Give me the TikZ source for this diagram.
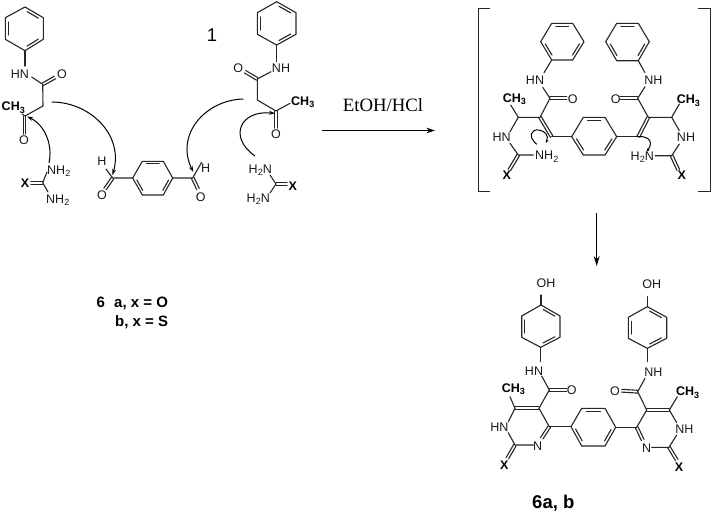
\documentclass[tikz,border=0pt]{standalone}
\usepackage{fontspec}
\setmainfont{Liberation Sans}
\newfontfamily\timesf{Liberation Serif}
\usetikzlibrary{calc,arrows.meta}
\tikzset{
  x=1pt,y=-1pt,
  bond/.style={line width=1.1pt,black!85,line cap=round,line join=round},
  atom/.style={inner sep=0pt,font=\fontsize{12.5}{12.5}\selectfont,text=black!90},
  batom/.style={inner sep=0pt,font=\fontsize{12.5}{12.5}\selectfont\bfseries,text=black},
  curly/.style={line width=1pt,black,-{Stealth[length=6pt,width=4pt]}},
  curlysmall/.style={line width=1pt,black,-{Stealth[length=3.5pt,width=3pt]}},
  react/.style={line width=1pt,black,-{Stealth[length=8.5pt,width=5.5pt]}},
  bracket/.style={line width=1.2pt,black!85},
  legend/.style={inner sep=0pt,font=\fontsize{15}{15}\selectfont\bfseries,text=black}
}
\newcommand\chs[1]{\raisebox{-2.5pt}{\fontsize{9}{9}\selectfont #1}}
\newcommand\dbond[2]{%
  \draw[bond] ($(#1)!1.4pt!90:(#2)$) -- ($(#2)!1.4pt!-90:(#1)$);
  \draw[bond] ($(#1)!1.4pt!-90:(#2)$) -- ($(#2)!1.4pt!90:(#1)$);}
% inner line of a ring double bond: a, b, centre
\newcommand\inb[3]{\draw[bond] ($(#1)!0.14!(#2)!0.15!(#3)$) -- ($(#2)!0.14!(#1)!0.15!(#3)$);}
\newcommand\hexa[6]{\draw[bond] (#1)--(#2)--(#3)--(#4)--(#5)--(#6)--cycle;}
\begin{document}
\begin{tikzpicture}
\useasboundingbox (0,0) rectangle (712,514);
%% ---------- left ketoanilide
\coordinate (c1) at (24.5,29);
\hexa{25,7}{43.3,17.7}{43.3,39.3}{25,50.7}{5.3,39.3}{5.3,17.7}
\inb{25,7}{43.3,17.7}{c1}\inb{43.3,39.3}{25,50.7}{c1}\inb{5.3,39.3}{5.3,17.7}{c1}
\draw[bond] (25,50.7)--(25,66);
\node[atom] (a1) at (20,74) {HN};
\draw[bond] (31.7,77)--(42.7,84.3);
\dbond{42.7,84.3}{55,77.5}
\node[atom] (a2) at (62,74) {O};
\draw[bond] (42.7,84.3)--(43,106)--(25,116)--(22,114);
\node[batom,anchor=east] (a3) at (25,107.5) {CH\chs{3}};
\dbond{24.5,116}{24.5,134}
\node[atom] (a4) at (24,140) {O};
\draw[curly] (51.7,102) .. controls (90,102) and (124,135) .. (112.5,175);
\draw[curly] (49,163) .. controls (53,145) and (45,125) .. (27,116.5);
%% urea left
\draw[bond] (42.7,182.7)--(47,172);
\draw[bond] (42.7,182.7)--(48,192);
\dbond{42.7,182.7}{31,182.7}
\node[batom] (a5) at (25,183) {X};
\node[atom,anchor=west] (a6) at (47,171) {NH\chs{2}};
\node[atom,anchor=west] (a7) at (46,200) {NH\chs{2}};
%% ---------- terephthalaldehyde
\coordinate (c2) at (152.7,178);
\hexa{132.7,178}{142.3,161.3}{163.3,161.3}{172.7,178}{163.3,195}{142.3,195}
\inb{142.3,161.3}{163.3,161.3}{c2}\inb{172.7,178}{163.3,195}{c2}\inb{142.3,195}{132.7,178}{c2}
\draw[bond] (132.7,178)--(112.7,178)--(106,169);
\dbond{112.7,178}{105,189}
\node[atom] (a8) at (102,161) {H};
\node[atom] (a9) at (102,195) {O};
\draw[bond] (172.7,178)--(192.7,178)--(201.5,162.5);
\dbond{192.7,178}{198,189}
\node[atom] (a10) at (205.7,168) {H};
\node[atom] (a11) at (200.7,197) {O};
\node[font=\fontsize{18.5}{18.5}\selectfont] (one) at (212,35) {1};
\draw[curly] (243.3,99) .. controls (205,100) and (175,135) .. (193.3,172);
%% ---------- right ketoanilide
\coordinate (c3) at (276.7,23.5);
\hexa{276.7,1.7}{296,12.7}{296,34.3}{276.7,45}{257.3,34.3}{257.3,12.7}
\inb{276.7,1.7}{296,12.7}{c3}\inb{296,34.3}{276.7,45}{c3}\inb{257.3,34.3}{257.3,12.7}{c3}
\draw[bond] (276.7,45)--(276.7,61.7);
\node[atom] (b1) at (281,68) {NH};
\draw[bond] (271,71.7)--(257.3,79);
\dbond{257.3,79}{245,71.7}
\node[atom] (b2) at (238.3,68) {O};
\draw[bond] (257.3,79)--(257.3,100)--(276,111)--(290,103.3);
\node[batom,anchor=west] (b3) at (291,102) {CH\chs{3}};
\dbond{276,111}{276,128}
\node[atom] (b4) at (276,134) {O};
\draw[curly] (255,156) .. controls (228,137) and (240,110) .. (275,113.3);
%% urea right
\draw[bond] (276,184)--(270,175);
\draw[bond] (276,184)--(270,193);
\dbond{276,184}{287,184}
\node[batom] (b5) at (292.7,185.7) {X};
\node[atom,anchor=east] (b6) at (272,170) {H\chs{2}N};
\node[atom,anchor=east] (b7) at (270,199.3) {H\chs{2}N};
%% ---------- reaction
\node[font=\timesf\fontsize{18.8}{18.8}\selectfont] (cond) at (383,105) {EtOH/HCl};
\coordinate (r1) at (322,130.5);
\coordinate (r2) at (435,130.5);
\draw[react] (r1)--(r2);
%% ---------- legend
\node[legend,anchor=base west] (l1) at (96.5,307.5) {6};
\node[legend,anchor=base west] (l1b) at (114,307.5) {a, x = O};
\node[legend,anchor=base west] (l2) at (115,326) {b, x = S};
%% ---------- brackets
\draw[bracket] (490,8.3)--(478.3,8.3)--(478.3,191.7)--(490,191.7);
\draw[bracket] (698.3,8.3)--(710.7,8.3)--(710.7,191.7)--(698.3,191.7);
%% ---------- intermediate
\coordinate (c4) at (562.3,41.7);
\hexa{551.7,23.3}{572.7,23.3}{584,41.7}{572.7,60}{551.7,60}{540.7,41.7}
\inb{551.7,23.3}{572.7,23.3}{c4}\inb{584,41.7}{572.7,60}{c4}\inb{551.7,60}{540.7,41.7}{c4}
\draw[bond] (551.7,60)--(544,72.7);
\node[atom] (d1) at (535,80) {HN};
\draw[bond] (542.7,87.3)--(550,98.3);
\dbond{550,98.3}{566.7,98.3}
\node[atom] (d2) at (572.7,99.3) {O};
\draw[bond] (550,98.3)--(540,117.3);
\dbond{540,117.3}{551.7,136.7}
\draw[bond] (540,117.3)--(518.3,117.3)--(510.7,105);
\node[batom] (d3) at (514.3,99) {CH\chs{3}};
\draw[bond] (518.3,117.3)--(510,131.7);
\node[atom] (d4) at (501.7,136.7) {HN};
\draw[bond] (510,143.3)--(518.3,155)--(533.3,155);
\dbond{518.3,155}{509.3,170}
\node[batom] (d5) at (506.7,175) {X};
\node[atom,anchor=west] (d6) at (535,156.7) {NH\chs{2}};
\draw[bond] (551.7,136.7)--(571.7,136.7);
\coordinate (c5) at (594.2,136.2);
\hexa{571.7,136.7}{583.3,117.3}{605,117.3}{616.7,136.7}{605,155}{583.3,155}
\inb{583.3,117.3}{605,117.3}{c5}\inb{616.7,136.7}{605,155}{c5}\inb{583.3,155}{571.7,136.7}{c5}
\draw[bond] (616.7,136.7)--(638.3,136.7);
\dbond{638.3,136.7}{648.3,117.3}
\draw[bond] (648.3,117.3)--(637.7,98.3);
\dbond{637.7,98.3}{620,98.3}
\node[atom] (e2) at (615.7,99.3) {O};
\draw[bond] (637.7,98.3)--(645,86.7);
\node[atom] (e1) at (653.3,80) {NH};
\draw[bond] (645,72.7)--(638.3,60.7);
\coordinate (c6) at (627.5,42);
\hexa{616.7,23.3}{638.3,23.3}{649.3,41.7}{638.3,60.7}{616.7,60.7}{605.7,41.7}
\inb{616.7,23.3}{638.3,23.3}{c6}\inb{649.3,41.7}{638.3,60.7}{c6}\inb{616.7,60.7}{605.7,41.7}{c6}
\draw[bond] (648.3,117.3)--(671.7,117.3)--(679.3,104);
\node[batom] (e3) at (688.3,100.7) {CH\chs{3}};
\draw[bond] (671.7,117.3)--(679.3,130.7);
\node[atom] (e4) at (686,137.3) {NH};
\draw[bond] (679.3,144)--(671.7,155.7)--(655,155.7);
\dbond{671.7,155.7}{678.3,170}
\node[batom] (e5) at (681.7,175) {X};
\node[atom,anchor=east] (e6) at (654,157.3) {H\chs{2}N};
\draw[curlysmall] (536.7,144.3) .. controls (527,136) and (532,129) .. (538.5,130) .. controls (545,131) and (549,135) .. (546,143);
\draw[curlysmall] (636.7,136.7) .. controls (646,135.5) and (655,140) .. (646.7,151.7);
%% ---------- down arrow
\coordinate (r3) at (596.7,213);
\coordinate (r4) at (596.7,266);
\draw[react,-{Stealth[length=10pt,width=6pt]}] (r3)--(r4);
%% ---------- product
\node[atom] (f1) at (546,282.7) {OH};
\draw[bond] (541,295)--(541,305);
\coordinate (c7) at (540.8,326);
\hexa{541,305}{560,316}{560,337.3}{540.7,347.3}{521.7,337.3}{521.7,316}
\inb{541,305}{560,316}{c7}\inb{560,337.3}{540.7,347.3}{c7}\inb{521.7,337.3}{521.7,316}{c7}
\draw[bond] (540.7,347.3)--(540.7,361.7);
\node[atom] (f2) at (534,370.7) {HN};
\draw[bond] (541.7,376)--(549.3,390);
\dbond{549.3,390}{566.7,390}
\node[atom] (f3) at (571.7,390) {O};
\draw[bond] (549.3,390)--(539,408.3);
\dbond{539,408.3}{515,408.3}
\draw[bond] (515,408.3)--(510,396.7);
\node[batom] (f4) at (513.3,389.3) {CH\chs{3}};
\draw[bond] (515,408.3)--(508.3,421.7);
\node[atom] (f5) at (499.3,426.7) {HN};
\draw[bond] (508.3,432.7)--(515,445)--(533.3,445);
\node[atom] (f6) at (537.7,446) {N};
\dbond{541.7,438.3}{549.3,426.7}
\draw[bond] (549.3,426.7)--(539,408.3);
\dbond{515,445}{507.3,458.3}
\node[batom] (f7) at (504.3,465) {X};
\draw[bond] (549.3,426.7)--(571,426.7);
\coordinate (c8) at (593.3,427);
\hexa{571,426.7}{581.7,408.3}{605,408.3}{615.7,427.3}{605,446}{581.7,446}
\inb{581.7,408.3}{605,408.3}{c8}\inb{615.7,427.3}{605,446}{c8}\inb{581.7,446}{571,426.7}{c8}
\draw[bond] (615.7,427.3)--(636.7,427.3);
\dbond{636.7,427.3}{642.7,440}
\node[atom] (g6) at (646.7,447.7) {N};
\draw[bond] (636.7,427.3)--(646.7,410);
\dbond{646.7,410}{669.3,410}
\draw[bond] (669.3,410)--(677.3,396.7);
\node[batom] (g4) at (687.7,392.7) {CH\chs{3}};
\draw[bond] (669.3,410)--(676.7,422.7);
\node[atom] (g5) at (684.3,429.3) {NH};
\draw[bond] (676.7,435)--(669,447.3)--(651.7,447.3);
\dbond{669,447.3}{676.7,460}
\node[batom] (g7) at (679,466.7) {X};
\draw[bond] (646.7,410)--(637.7,391.7);
\dbond{637.7,391.7}{621.7,390.7}
\node[atom] (g3) at (615,390.7) {O};
\draw[bond] (637.7,391.7)--(645,378.3);
\node[atom] (g2) at (653.3,371.7) {NH};
\draw[bond] (647.3,361.7)--(647.3,348.3);
\coordinate (c9) at (647.3,327.5);
\hexa{647.3,306.7}{666.7,317.3}{666.7,338.3}{647.3,348.3}{628.3,338.3}{628.3,317.3}
\inb{647.3,306.7}{666.7,317.3}{c9}\inb{666.7,338.3}{647.3,348.3}{c9}\inb{628.3,338.3}{628.3,317.3}{c9}
\draw[bond] (647.3,306.7)--(647.3,296.7);
\node[atom] (g1) at (651.7,284.3) {OH};
\node[font=\fontsize{18.5}{18.5}\selectfont\bfseries] (lab) at (553.3,503.3) {6a, b};
\end{tikzpicture}
\end{document}
